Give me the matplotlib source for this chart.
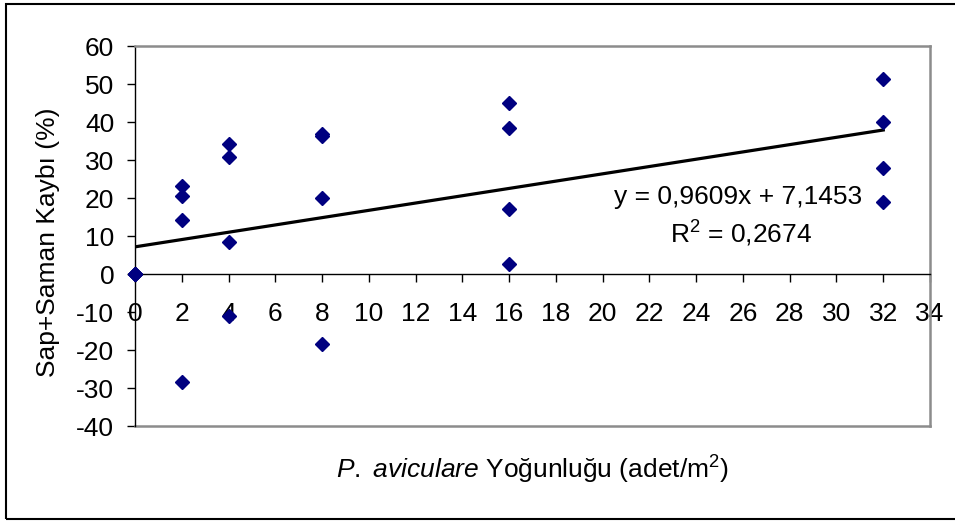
import matplotlib.pyplot as plt
from matplotlib.patches import Rectangle

plt.rcParams["font.family"] = ["Liberation Sans", "DejaVu Sans"]
plt.rcParams["axes.unicode_minus"] = False
plt.rcParams["mathtext.fontset"] = "custom"
plt.rcParams["mathtext.rm"] = "Liberation Sans"
plt.rcParams["mathtext.it"] = "Liberation Sans:italic"

# veriler
yogunluk = [0, 0, 0, 0,
            2, 2, 2, 2,
            4, 4, 4, 4,
            8, 8, 8, 8,
            16, 16, 16, 16,
            32, 32, 32, 32]
kayip = [0, 0, 0, 0,
         23.2, 20.5, 14.2, -28.3,
         34.1, 30.9, 8.4, -11.1,
         36.9, 36.2, 20.0, -18.3,
         45.1, 38.3, 17.2, 2.6,
         51.4, 40.1, 28.0, 18.9]

egim = 0.9609
kesisim = 7.1453
r_kare = 0.2674
trend_x = [0, 32]

x_ticks = list(range(0, 36, 2))
y_ticks = list(range(-40, 70, 10))

FS = 19

fig = plt.figure(figsize=(9.55, 5.21), dpi=100)
ax = fig.add_axes([135 / 955, 95 / 521, 795 / 955, 380 / 521])

ax.plot(yogunluk, kayip, linestyle="none", marker="D", markersize=6.8,
        color="#000080", zorder=3, clip_on=False)
ax.plot(trend_x, [egim * v + kesisim for v in trend_x], color="black", lw=2.3, zorder=2)

ax.set_xlim(0, 34)
ax.set_ylim(-40, 60)
ax.set_xticks(x_ticks)
ax.set_yticks(y_ticks)

# x ekseni y=0 noktasından geçer
ax.spines["bottom"].set_position(("data", 0))
ax.spines["bottom"].set_color("black")
ax.spines["bottom"].set_linewidth(1.0)
ax.spines["left"].set_color("black")
ax.spines["left"].set_linewidth(1.0)
for s in ["top", "right"]:
    ax.spines[s].set_color("#8c8c8c")
    ax.spines[s].set_linewidth(1.8)
ax.plot([0, 1], [0, 0], transform=ax.transAxes, color="#8c8c8c", lw=1.8, clip_on=False)

ax.tick_params(axis="x", direction="out", length=6, width=1, pad=14, labelsize=FS)
ax.tick_params(axis="y", direction="out", length=6, width=1, pad=9, labelsize=FS)

ax.text(0.7585, 0.6026, f"y = {egim:.4f}x + {kesisim:.4f}".replace(".", ","),
        transform=ax.transAxes, ha="center", va="center", fontsize=FS)
ax.text(0.762, 0.505, "R$^2$ = " + f"{r_kare:.4f}".replace(".", ","),
        transform=ax.transAxes, ha="center", va="center", fontsize=FS)

fig.text(532 / 955, 1 - 470 / 521, r"$\mathit{P.}$ $\mathit{aviculare}$ Yoğunluğu (adet/m$^2$)",
         ha="center", va="center", fontsize=FS)
fig.text(48 / 955, 1 - 242 / 521, "Sap+Saman Kaybı (%)", rotation=90,
         ha="center", va="center", fontsize=FS)

# dış çerçeve
fig.patches.append(Rectangle((6 / 955, 2 / 521), 1.0, 515 / 521, transform=fig.transFigure,
                             fill=False, edgecolor="black", lw=1.5))

fig.savefig("out.png", dpi=100)
